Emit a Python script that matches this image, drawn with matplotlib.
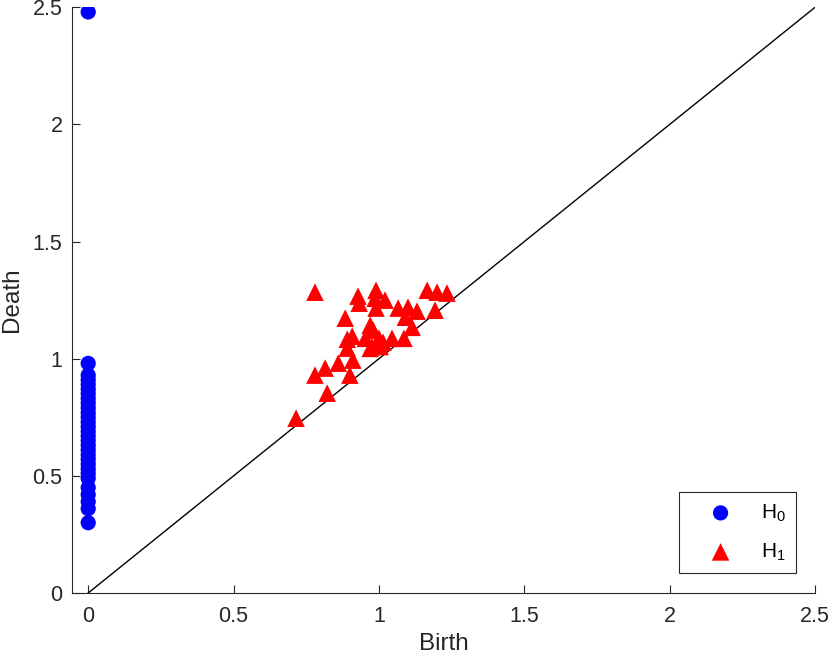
import numpy as np
import matplotlib
matplotlib.use("Agg")
import matplotlib.pyplot as plt

plt.rcParams['font.family'] = ['Liberation Sans', 'DejaVu Sans']
plt.rcParams['mathtext.fontset'] = 'custom'
plt.rcParams['mathtext.rm'] = 'Liberation Sans'

# H0 points (birth is always 0)
h0_death = [0.30, 0.36, 0.39, 0.42, 0.45, 0.49, 0.51, 0.53, 0.55, 0.57,
            0.59, 0.61, 0.63, 0.65, 0.67, 0.69, 0.71, 0.73, 0.75, 0.77,
            0.79, 0.81, 0.83, 0.85, 0.87, 0.89, 0.91, 0.93, 0.98, 2.48]
h0_birth = [0.0] * len(h0_death)

# H1 points
h1_birth = [0.715, 0.780, 0.822, 0.780, 0.815, 0.860, 0.900, 0.910, 0.891, 0.908,
            0.891, 0.884, 0.928, 0.932, 0.990, 0.987, 1.021, 0.990, 0.970, 0.980,
            0.953, 1.000, 0.976, 1.014, 0.970, 1.004, 1.045, 1.066, 1.100, 1.091,
            1.131, 1.166, 1.200, 1.234, 1.193, 1.114, 1.086]
h1_death = [0.746, 1.284, 0.853, 0.930, 0.960, 0.981, 0.930, 0.994, 1.045, 1.096,
            1.083, 1.173, 1.267, 1.237, 1.292, 1.258, 1.250, 1.216, 1.143, 1.122,
            1.087, 1.087, 1.052, 1.070, 1.044, 1.052, 1.087, 1.216, 1.220, 1.177,
            1.203, 1.292, 1.284, 1.280, 1.207, 1.134, 1.087]

fig = plt.figure(figsize=(8.3, 6.6), dpi=100)
ax = fig.add_axes([0.087, 0.1015, 0.895, 0.8875])

ax.plot([0, 2.5], [0, 2.5], color='black', lw=1)
ax.scatter(h0_birth, h0_death, s=120, marker='o', color='#0000ff',
           edgecolors='none', label=r'$\mathregular{H_0}$', zorder=3)
ax.scatter(h1_birth, h1_death, s=160, marker='^', color='#ff0000',
           edgecolors='none', label=r'$\mathregular{H_1}$', zorder=3)

ax.set_xlim(-0.055, 2.5)
ax.set_ylim(0, 2.5)
ax.set_xticks([0, 0.5, 1, 1.5, 2, 2.5])
ax.set_xticklabels(['0', '0.5', '1', '1.5', '2', '2.5'])
ax.set_yticks([0, 0.5, 1, 1.5, 2, 2.5])
ax.set_yticklabels(['0', '0.5', '1', '1.5', '2', '2.5'])
ax.tick_params(direction='in', length=6, labelsize=15.5, colors='#262626')
ax.tick_params(axis='x', pad=9)
ax.tick_params(axis='y', pad=7)
for s in ['top', 'right']:
    ax.spines[s].set_visible(False)
for s in ['left', 'bottom']:
    ax.spines[s].set_color('#262626')
    ax.spines[s].set_linewidth(0.8)

ax.set_xlabel('Birth', fontsize=17.5, color='#262626', labelpad=5)
ax.set_ylabel('Death', fontsize=17.5, color='#262626', labelpad=7)

leg = ax.legend(loc='lower right', bbox_to_anchor=(0.975, 0.034), fontsize=15,
                fancybox=False, framealpha=1, edgecolor='#262626',
                borderpad=0.5, labelspacing=0.85, handlelength=3.0,
                handletextpad=0.45, borderaxespad=0)
leg.get_frame().set_linewidth(0.8)

fig.savefig('out.png', dpi=100)
